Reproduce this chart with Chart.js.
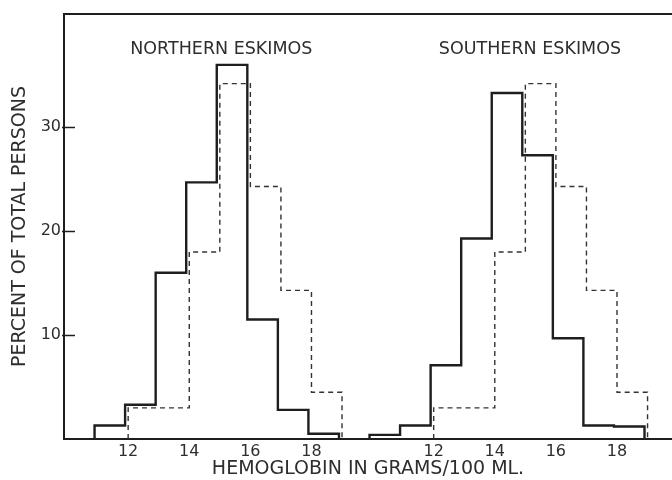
<!DOCTYPE html>
<html>
<head>
<meta charset="utf-8">
<script src="https://cdn.jsdelivr.net/npm/chart.js@4/dist/chart.umd.min.js"></script>
<style>
  html, body { margin: 0; padding: 0; background: #ffffff; }
  #wrap { width: 672px; height: 480px; }
</style>
</head>
<body>
<div id="wrap"><canvas id="c" width="672" height="480"></canvas></div>
<script>
// ---- data ----
const panelTitles = ["NORTHERN ESKIMOS", "SOUTHERN ESKIMOS"];
const xTickValues = [12, 14, 16, 18];
const yTickValues = [10, 20, 30];

// Northern Eskimos (solid): bin edges (g/100 ml) and percent of persons
const northEdges  = [11, 12, 13, 14, 15, 16, 17, 18, 19];
const northValues = [1.3, 3.3, 16.0, 24.7, 36.0, 11.5, 2.8, 0.5];

// Southern Eskimos (solid)
const southEdges  = [10, 11, 12, 13, 14, 15, 16, 17, 18, 19];
const southValues = [0.4, 1.3, 7.1, 19.3, 33.3, 27.3, 9.7, 1.3, 1.2];

// Comparison distribution (dashed, same in both panels)
const compEdges  = [12, 14, 15, 16, 17, 18, 19];
const compValues = [3.0, 18.0, 34.2, 24.3, 14.3, 4.5];

// ---- layout constants (not data) ----
const PANEL_OFFSET = 10;   // second panel drawn 10 units to the right on the shared axis
const DASH_SHIFT = 0.1;    // dashed outline drawn slightly right so it does not overlap
const INK = '#1e1e1e';
const TEXT = '#2e2e2e';
const FONT = "'DejaVu Sans', sans-serif";

function stepPoints(edges, values, shift) {
  const pts = [{x: edges[0] + shift, y: 0}];
  for (let i = 0; i < values.length; i++) pts.push({x: edges[i] + shift, y: values[i]});
  pts.push({x: edges[edges.length - 1] + shift, y: 0});
  return pts;
}

const lineBase = { stepped: 'before', pointRadius: 0, fill: false, tension: 0, borderJoinStyle: 'miter', borderCapStyle: 'butt' };

const datasets = [
  Object.assign({}, lineBase, { label: 'Northern Eskimos', data: stepPoints(northEdges, northValues, 0), borderColor: INK, borderWidth: 2.4 }),
  Object.assign({}, lineBase, { label: 'Comparison (northern panel)', data: stepPoints(compEdges, compValues, DASH_SHIFT), borderColor: '#333', borderWidth: 1.4, borderDash: [5, 4] }),
  Object.assign({}, lineBase, { label: 'Southern Eskimos', data: stepPoints(southEdges, southValues, PANEL_OFFSET), borderColor: INK, borderWidth: 2.4 }),
  Object.assign({}, lineBase, { label: 'Comparison (southern panel)', data: stepPoints(compEdges, compValues, PANEL_OFFSET + DASH_SHIFT), borderColor: '#333', borderWidth: 1.4, borderDash: [5, 4] })
];

const allXTicks = xTickValues.concat(xTickValues.map(v => v + PANEL_OFFSET));

const framePlugin = {
  id: 'frame',
  afterDraw(chart) {
    const {ctx, chartArea: a, scales: {x, y}} = chart;
    ctx.save();
    ctx.strokeStyle = INK;
    ctx.lineWidth = 2;
    // top frame line
    ctx.beginPath();
    ctx.moveTo(a.left, a.top);
    ctx.lineTo(a.right, a.top);
    ctx.stroke();
    // inward y tick marks
    ctx.lineWidth = 1.5;
    yTickValues.forEach(v => {
      const py = Math.round(y.getPixelForValue(v)) + 0.5;
      ctx.beginPath();
      ctx.moveTo(a.left - 2, py);
      ctx.lineTo(a.left + 11, py);
      ctx.stroke();
    });
    // panel titles
    ctx.fillStyle = TEXT;
    ctx.font = "17.5px " + FONT;
    ctx.textAlign = 'center';
    ctx.textBaseline = 'middle';
    const ty = y.getPixelForValue(37.5);
    ctx.fillText(panelTitles[0], x.getPixelForValue(15.15), ty);
    ctx.fillText(panelTitles[1], x.getPixelForValue(15.25 + PANEL_OFFSET), ty);
    ctx.restore();
  }
};

new Chart(document.getElementById('c'), {
  type: 'line',
  data: { datasets },
  options: {
    responsive: false,
    animation: false,
    devicePixelRatio: 1,
    layout: { padding: { top: 14, right: 0, bottom: 0, left: 0 } },
    plugins: { legend: { display: false }, tooltip: { enabled: false } },
    scales: {
      x: {
        type: 'linear',
        min: 10,
        max: 29.9,
        afterBuildTicks: s => { s.ticks = allXTicks.map(v => ({value: v})); },
        afterFit: s => { s.height = 41; },
        grid: { display: false, drawTicks: false },
        border: { display: true, color: INK, width: 2 },
        ticks: {
          autoSkip: false,
          maxRotation: 0,
          padding: 3,
          labelOffset: 3,
          color: TEXT,
          font: { family: FONT, size: 16 },
          callback: v => String(v > 20 ? v - PANEL_OFFSET : v)
        },
        title: {
          display: true,
          text: 'HEMOGLOBIN IN GRAMS/100 ML.',
          color: TEXT,
          font: { family: FONT, size: 19 },
          padding: { top: 0, bottom: 0 }
        }
      },
      y: {
        type: 'linear',
        min: 0,
        max: 40.9,
        afterBuildTicks: s => { s.ticks = yTickValues.map(v => ({value: v})); },
        afterFit: s => { s.width = 64; },
        grid: { display: false, drawTicks: false },
        border: { display: true, color: INK, width: 2 },
        ticks: {
          padding: 3,
          color: TEXT,
          font: { family: FONT, size: 16 }
        },
        title: {
          display: true,
          text: 'PERCENT OF TOTAL PERSONS',
          color: TEXT,
          font: { family: FONT, size: 19 },
          padding: { top: 9, bottom: 0 }
        }
      }
    }
  },
  plugins: [framePlugin]
});
</script>
</body>
</html>
